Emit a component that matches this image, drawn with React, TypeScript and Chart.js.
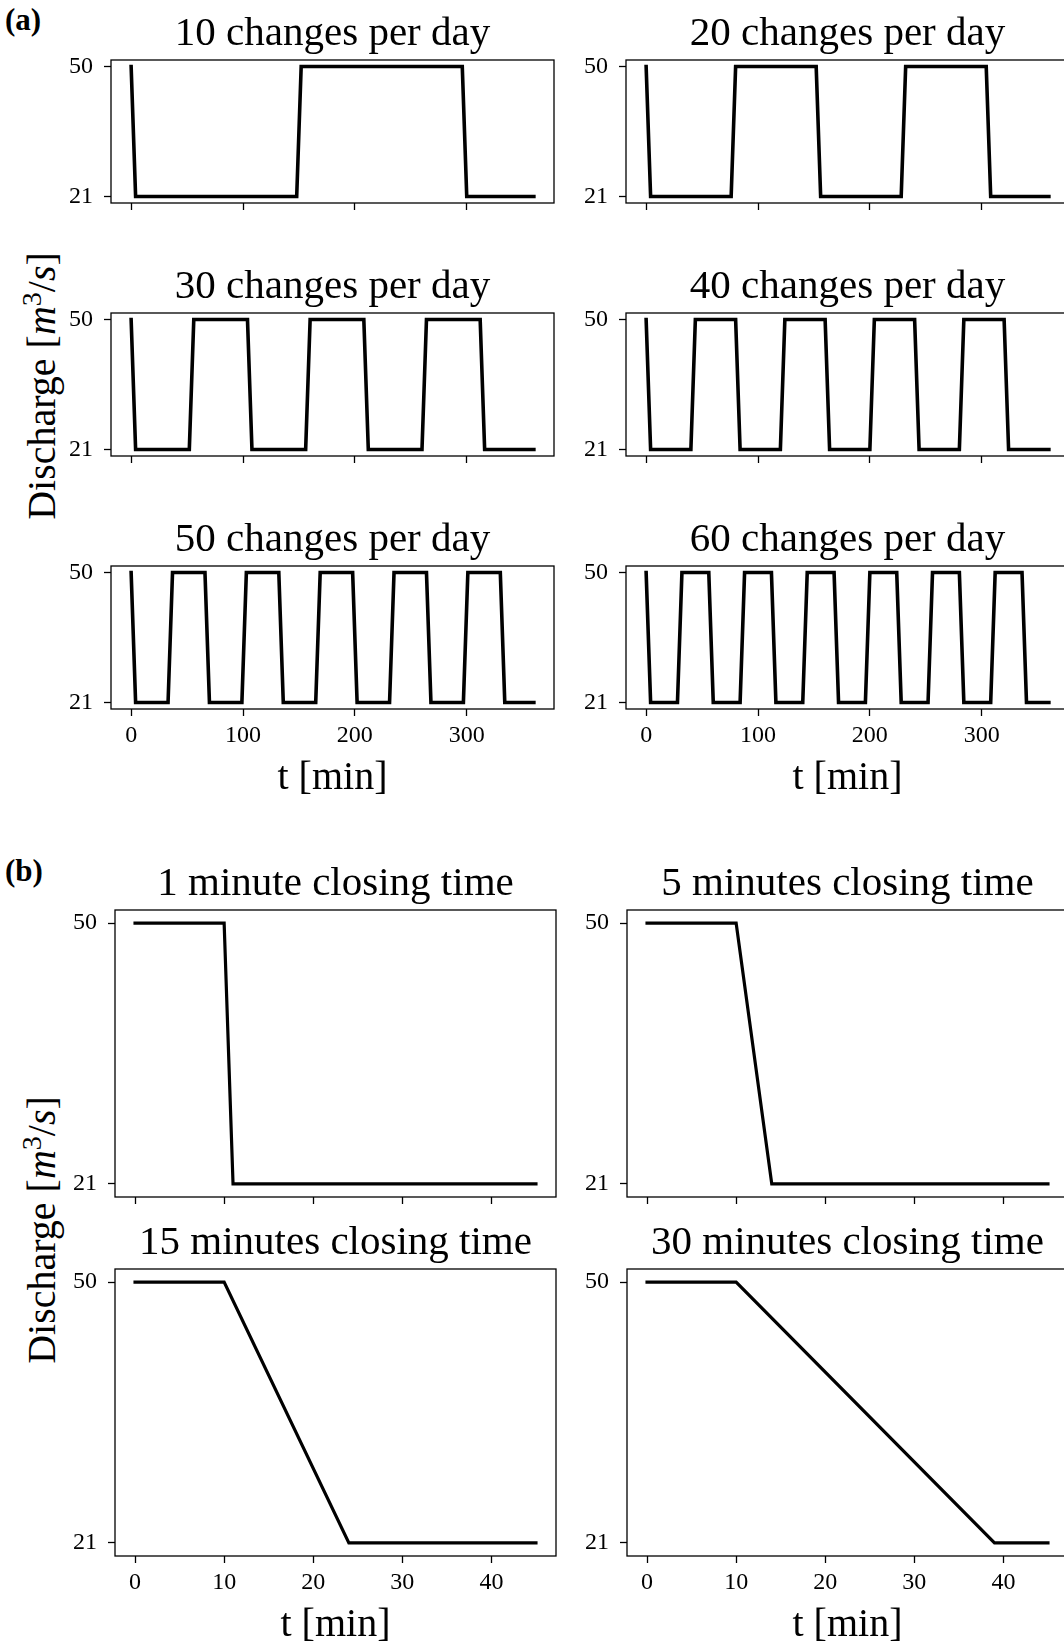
import React, { useEffect, useRef } from 'react';
import { Chart, registerables } from 'chart.js';

Chart.register(...registerables);

const FONT = '"Liberation Serif", "Times New Roman", serif';

// ---- tick labels ----
const Y_TICKS = [21, 50];
const A_X_TICKS = [0, 100, 200, 300];
const B_X_TICKS = [0, 10, 20, 30, 40];

// ---- panel (a): breakpoints of discharge series (t in min, Q in m3/s) ----
const t10 = [0, 4, 148, 152, 296, 300, 360];
const q10 = [50, 21, 21, 50, 50, 21, 21];

const t20 = [0, 4, 76, 80, 152, 156, 228, 232, 304, 308, 360];
const q20 = [50, 21, 21, 50, 50, 21, 21, 50, 50, 21, 21];

const t30 = [0, 4, 52, 56, 104, 108, 156, 160, 208, 212, 260, 264, 312, 316, 360];
const q30 = [50, 21, 21, 50, 50, 21, 21, 50, 50, 21, 21, 50, 50, 21, 21];

const t40 = [0, 4, 40, 44, 80, 84, 120, 124, 160, 164, 200, 204, 240, 244, 280, 284, 320, 324, 360];
const q40 = [50, 21, 21, 50, 50, 21, 21, 50, 50, 21, 21, 50, 50, 21, 21, 50, 50, 21, 21];

const t50 = [0, 4, 33, 37, 66, 70, 99, 103, 132, 136, 165, 169, 198, 202, 231, 235, 264, 268, 297, 301, 330, 334, 360];
const q50 = [50, 21, 21, 50, 50, 21, 21, 50, 50, 21, 21, 50, 50, 21, 21, 50, 50, 21, 21, 50, 50, 21, 21];

const t60 = [0, 4, 28, 32, 56, 60, 84, 88, 112, 116, 140, 144, 168, 172, 196, 200, 224, 228, 252, 256, 280, 284, 308, 312, 336, 340, 360];
const q60 = [50, 21, 21, 50, 50, 21, 21, 50, 50, 21, 21, 50, 50, 21, 21, 50, 50, 21, 21, 50, 50, 21, 21, 50, 50, 21, 21];

// ---- panel (b): closing-time series ----
const tB1 = [0, 10, 11, 45];
const qB1 = [50, 50, 21, 21];
const tB5 = [0, 10, 14, 45];
const qB5 = [50, 50, 21, 21];
const tB15 = [0, 10, 24, 45];
const qB15 = [50, 50, 21, 21];
const tB30 = [0, 10, 39, 45];
const qB30 = [50, 50, 21, 21];

// ---- layout constants ----
const WY = 70;
const PADR = 12;
const TITLE_SIZE = 41;
const TITLE_PB = 0.8;
const TITLE_H = 50;
const HX_LABELS = 93;
const HX_PLAIN = 26;
const TICK_SIZE = 24;
const Y_MIN = 19.55;
const Y_MAX = 51.45;

type Panel = {
  title: string;
  t: number[];
  q: number[];
  L: number;
  T: number;
  W: number;
  H: number;
  xMin: number;
  xMax: number;
  xTicks: number[];
  xLabels: boolean;
  lw: number;
};

const A_MIN = -18, A_MAX = 378;
const B_MIN = -2.25, B_MAX = 47.25;

const panels: Panel[] = [
  { title: '10 changes per day', t: t10, q: q10, L: 111, T: 60, W: 443, H: 143, xMin: A_MIN, xMax: A_MAX, xTicks: A_X_TICKS, xLabels: false, lw: 3.6 },
  { title: '20 changes per day', t: t20, q: q20, L: 626, T: 60, W: 443, H: 143, xMin: A_MIN, xMax: A_MAX, xTicks: A_X_TICKS, xLabels: false, lw: 3.6 },
  { title: '30 changes per day', t: t30, q: q30, L: 111, T: 313, W: 443, H: 143, xMin: A_MIN, xMax: A_MAX, xTicks: A_X_TICKS, xLabels: false, lw: 3.6 },
  { title: '40 changes per day', t: t40, q: q40, L: 626, T: 313, W: 443, H: 143, xMin: A_MIN, xMax: A_MAX, xTicks: A_X_TICKS, xLabels: false, lw: 3.6 },
  { title: '50 changes per day', t: t50, q: q50, L: 111, T: 566, W: 443, H: 143, xMin: A_MIN, xMax: A_MAX, xTicks: A_X_TICKS, xLabels: true, lw: 3.6 },
  { title: '60 changes per day', t: t60, q: q60, L: 626, T: 566, W: 443, H: 143, xMin: A_MIN, xMax: A_MAX, xTicks: A_X_TICKS, xLabels: true, lw: 3.6 },
  { title: '1 minute closing time', t: tB1, q: qB1, L: 115, T: 910, W: 441, H: 287, xMin: B_MIN, xMax: B_MAX, xTicks: B_X_TICKS, xLabels: false, lw: 3.2 },
  { title: '5 minutes closing time', t: tB5, q: qB5, L: 627, T: 910, W: 441, H: 287, xMin: B_MIN, xMax: B_MAX, xTicks: B_X_TICKS, xLabels: false, lw: 3.2 },
  { title: '15 minutes closing time', t: tB15, q: qB15, L: 115, T: 1269, W: 441, H: 287, xMin: B_MIN, xMax: B_MAX, xTicks: B_X_TICKS, xLabels: true, lw: 3.2 },
  { title: '30 minutes closing time', t: tB30, q: qB30, L: 627, T: 1269, W: 441, H: 287, xMin: B_MIN, xMax: B_MAX, xTicks: B_X_TICKS, xLabels: true, lw: 3.2 },
];

const boxPlugin = {
  id: 'boxFrame',
  afterDatasetsDraw(chart: any) {
    const { ctx, chartArea: a } = chart;
    ctx.save();
    ctx.strokeStyle = '#000';
    ctx.lineWidth = 1.3;
    ctx.strokeRect(a.left, a.top, a.right - a.left, a.bottom - a.top);
    ctx.restore();
  },
};

function Subplot({ p }: { p: Panel }) {
  const ref = useRef<HTMLCanvasElement | null>(null);
  const hx = p.xLabels ? HX_LABELS : HX_PLAIN;
  const cw = WY + p.W + PADR;
  const ch = TITLE_H + p.H + hx;

  useEffect(() => {
    if (!ref.current) return;
    const gridOpts = {
      display: true,
      drawOnChartArea: false,
      drawTicks: true,
      tickLength: 7,
      tickWidth: 1.3,
      tickColor: '#000',
    };
    const chart = new Chart(ref.current, {
      type: 'line',
      data: {
        datasets: [
          {
            data: p.t.map((x, i) => ({ x, y: p.q[i] })),
            borderColor: '#000',
            borderWidth: p.lw,
            pointRadius: 0,
            tension: 0,
            fill: false,
            borderCapStyle: 'square',
            borderJoinStyle: 'miter',
          } as any,
        ],
      },
      options: {
        animation: false,
        responsive: false,
        events: [],
        layout: { padding: { left: 0, right: PADR, top: 0, bottom: 0 } },
        plugins: {
          legend: { display: false },
          tooltip: { enabled: false },
          title: {
            display: true,
            text: p.title,
            color: '#000',
            fullSize: false,
            font: { family: FONT, size: TITLE_SIZE, weight: 'normal', lineHeight: 1.2 },
            padding: { top: 0, bottom: TITLE_PB },
          },
        },
        scales: {
          x: {
            type: 'linear',
            position: 'bottom',
            min: p.xMin,
            max: p.xMax,
            afterBuildTicks: (s: any) => {
              s.ticks = p.xTicks.map((v) => ({ value: v }));
            },
            afterFit: (s: any) => {
              s.height = hx;
            },
            grid: gridOpts,
            border: { display: false },
            ticks: {
              display: p.xLabels,
              color: '#000',
              font: { family: FONT, size: TICK_SIZE },
              padding: 5,
              maxRotation: 0,
              autoSkip: false,
            },
            title: {
              display: p.xLabels,
              text: 't [min]',
              color: '#000',
              font: { family: FONT, size: 40 },
              padding: { top: 0, bottom: 0 },
            },
          },
          y: {
            type: 'linear',
            position: 'left',
            min: Y_MIN,
            max: Y_MAX,
            afterBuildTicks: (s: any) => {
              s.ticks = Y_TICKS.map((v) => ({ value: v }));
            },
            afterFit: (s: any) => {
              s.width = WY;
            },
            grid: gridOpts,
            border: { display: false },
            ticks: {
              color: '#000',
              font: { family: FONT, size: TICK_SIZE },
              padding: 11,
            },
          },
        },
      } as any,
      plugins: [boxPlugin],
    });
    return () => chart.destroy();
  }, []);

  return (
    <canvas
      ref={ref}
      width={cw}
      height={ch}
      style={{
        position: 'absolute',
        left: p.L - WY,
        top: p.T - TITLE_H,
        width: cw,
        height: ch,
      }}
    />
  );
}

function YLabel({ cx, cy }: { cx: number; cy: number }) {
  return (
    <div
      style={{
        position: 'absolute',
        left: cx,
        top: cy,
        transform: 'translate(-50%, -50%) rotate(-90deg)',
        fontFamily: FONT,
        fontSize: 40,
        lineHeight: 1,
        whiteSpace: 'nowrap',
        color: '#000',
      }}
    >
      Discharge [<i>m</i>
      <sup style={{ fontSize: '0.7em', lineHeight: 0 }}>3</sup>/<i>s</i>]
    </div>
  );
}

function PanelTag({ text, top }: { text: string; top: number }) {
  return (
    <div
      style={{
        position: 'absolute',
        left: 5,
        top,
        fontFamily: FONT,
        fontWeight: 'bold',
        fontSize: 31,
        lineHeight: 1,
        color: '#000',
      }}
    >
      {text}
    </div>
  );
}

export default function App() {
  return (
    <div
      style={{
        position: 'absolute',
        left: 0,
        top: 0,
        width: 1064,
        height: 1643,
        overflow: 'hidden',
        background: '#fff',
      }}
    >
      <PanelTag text="(a)" top={4} />
      <PanelTag text="(b)" top={855} />
      <YLabel cx={42} cy={386} />
      <YLabel cx={42} cy={1230} />
      {panels.map((p) => (
        <Subplot key={p.title} p={p} />
      ))}
    </div>
  );
}
